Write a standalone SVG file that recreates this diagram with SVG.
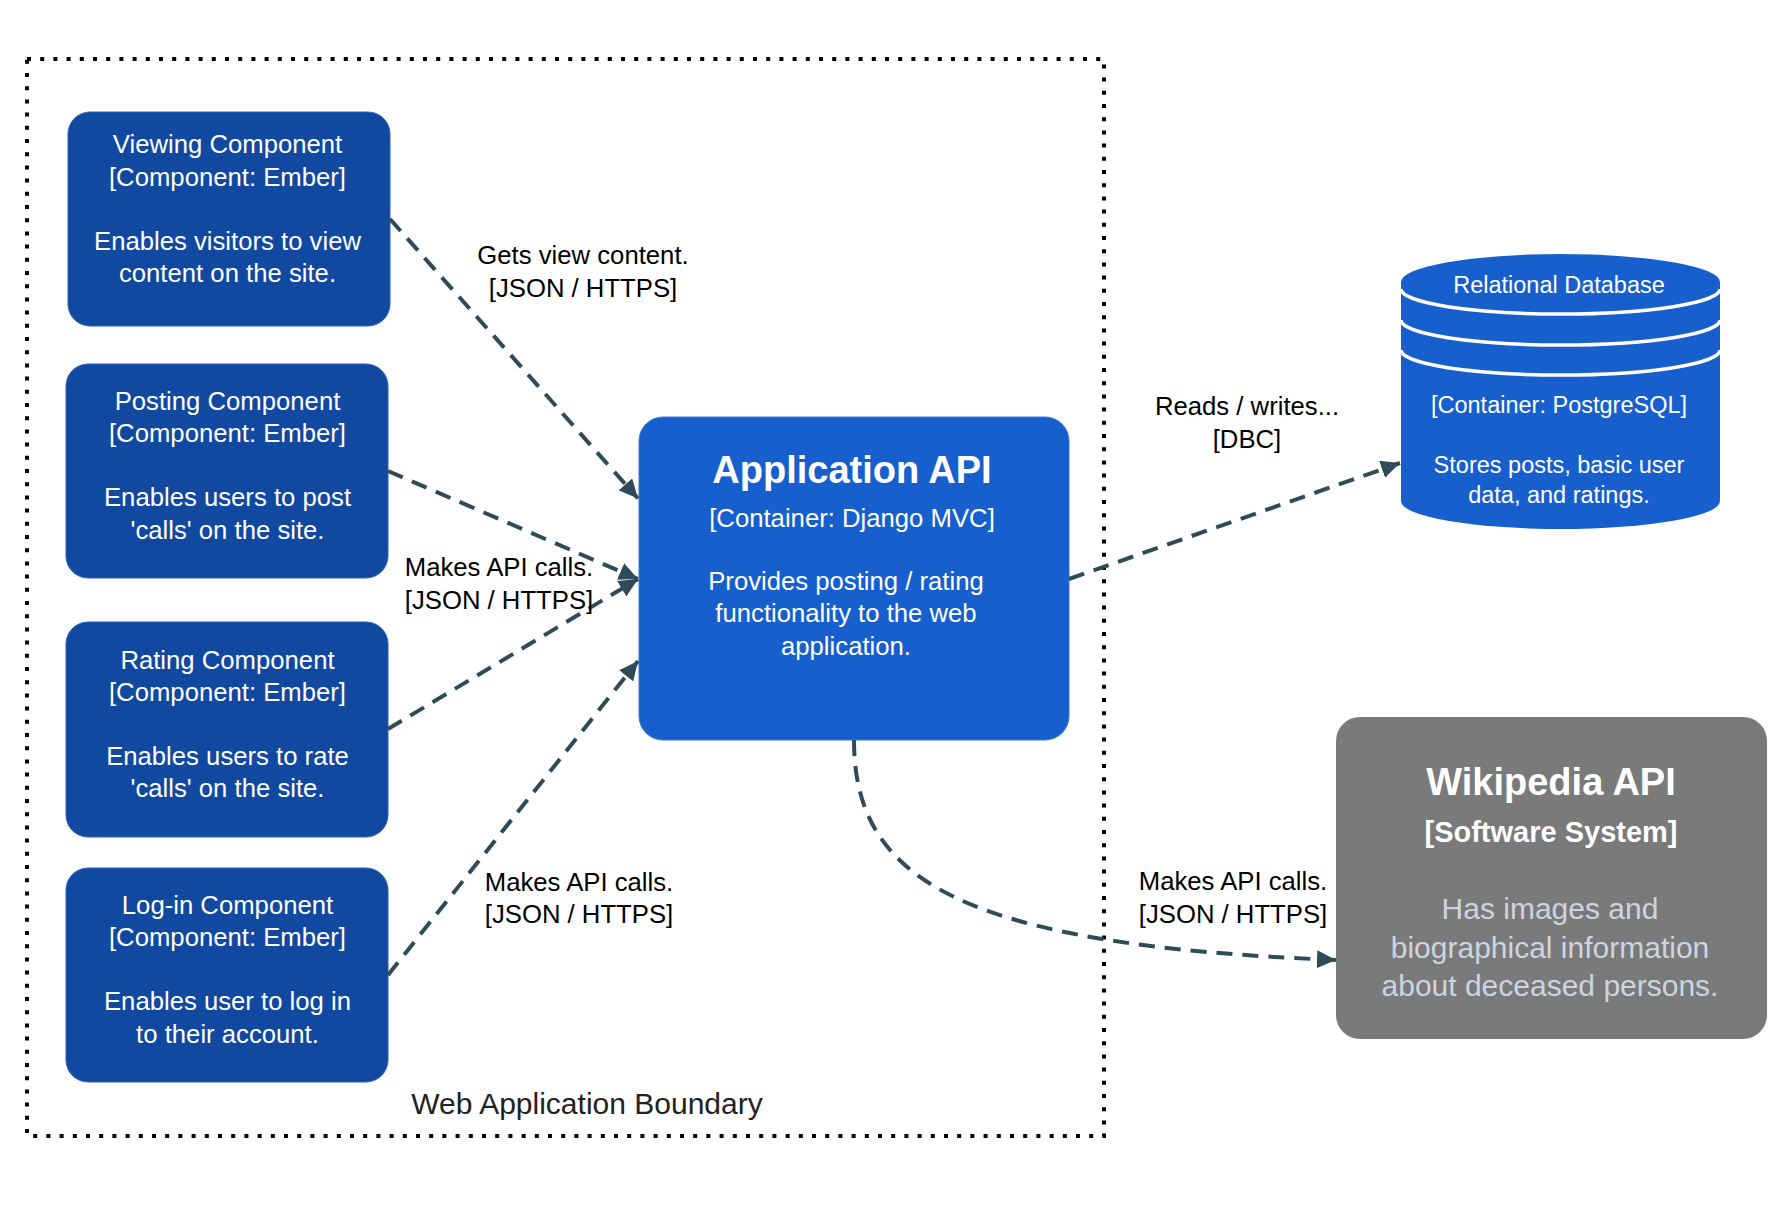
<svg xmlns="http://www.w3.org/2000/svg" width="1792" height="1208" viewBox="0 0 1792 1208">
<defs>
<marker id="arr" markerUnits="userSpaceOnUse" markerWidth="20" markerHeight="18" viewBox="0 0 20 18" refX="19" refY="9" orient="auto">
<path d="M0,0 L19,9 L0,18 z" fill="#2f4b5a"/>
</marker>
</defs>
<style>
text{font-family:"Liberation Sans",Arial,Helvetica,sans-serif;text-anchor:middle}
.comp{fill:#1148a0;stroke:#2d62b8;stroke-width:1}
.cont{fill:#175fcc;stroke:#3a78d6;stroke-width:1}
.ext{fill:#7a7a7a}
.wt{fill:#ffffff;font-size:25.7px}
.lbl{fill:#000000;font-size:25.7px}
.conn{fill:none;stroke:#2f4b5a;stroke-width:4;stroke-dasharray:16 10;marker-end:url(#arr)}
.dbl{fill:none;stroke:#ffffff;stroke-width:3.5}
</style>
<rect width="1792" height="1208" fill="#ffffff"/>

<g id="boundary">
<rect x="27" y="59" width="1077" height="1077" fill="none" stroke="#000000" stroke-width="4" stroke-dasharray="4 9.2"/>
<text x="587" y="1114" style="font-size:30px;fill:#222222">Web Application Boundary</text>
</g>

<g id="viewing">
<rect class="comp" x="68" y="112" width="322" height="214" rx="22"/>
<text class="wt" x="227.5" y="153">Viewing Component</text>
<text class="wt" x="227.5" y="186">[Component: Ember]</text>
<text class="wt" x="227.5" y="250">Enables visitors to view</text>
<text class="wt" x="227.5" y="282">content on the site.</text>
</g>

<g id="posting">
<rect class="comp" x="66" y="364" width="322" height="214" rx="22"/>
<text class="wt" x="227.5" y="409.5">Posting Component</text>
<text class="wt" x="227.5" y="442">[Component: Ember]</text>
<text class="wt" x="227.5" y="506">Enables users to post</text>
<text class="wt" x="227.5" y="538.5">'calls' on the site.</text>
</g>

<g id="rating">
<rect class="comp" x="66" y="622" width="322" height="215" rx="22"/>
<text class="wt" x="227.5" y="669">Rating Component</text>
<text class="wt" x="227.5" y="701">[Component: Ember]</text>
<text class="wt" x="227.5" y="765">Enables users to rate</text>
<text class="wt" x="227.5" y="797">'calls' on the site.</text>
</g>

<g id="login">
<rect class="comp" x="66" y="868" width="322" height="214" rx="22"/>
<text class="wt" x="227.5" y="914">Log-in Component</text>
<text class="wt" x="227.5" y="946">[Component: Ember]</text>
<text class="wt" x="227.5" y="1009.5">Enables user to log in</text>
<text class="wt" x="227.5" y="1043">to their account.</text>
</g>

<g id="app-api">
<rect class="cont" x="639" y="417" width="430" height="323" rx="24"/>
<text x="852" y="483" style="fill:#ffffff;font-size:38px;font-weight:bold">Application API</text>
<text class="wt" x="852" y="527">[Container: Django MVC]</text>
<text class="wt" x="846" y="590">Provides posting / rating</text>
<text class="wt" x="846" y="622">functionality to the web</text>
<text class="wt" x="846" y="655">application.</text>
</g>

<g id="database">
<path d="M1401,282 A159.5,28 0 0 1 1720,282 L1720,501 A159.5,28 0 0 1 1401,501 Z" fill="#175fcc"/>
<path class="dbl" d="M1401,289 A159.5,25 0 0 0 1720,289"/>
<path class="dbl" d="M1401,320 A159.5,25 0 0 0 1720,320"/>
<path class="dbl" d="M1401,350 A159.5,25 0 0 0 1720,350"/>
<text x="1559" y="293" style="fill:#ffffff;font-size:23.5px">Relational Database</text>
<text x="1559" y="413" style="fill:#ffffff;font-size:23.5px">[Container: PostgreSQL]</text>
<text x="1559" y="473" style="fill:#ffffff;font-size:23.5px">Stores posts, basic user</text>
<text x="1559" y="503" style="fill:#ffffff;font-size:23.5px">data, and ratings.</text>
</g>

<g id="wikipedia">
<rect class="ext" x="1336" y="717" width="431" height="322" rx="24"/>
<text x="1551" y="795" style="fill:#ffffff;font-size:38px;font-weight:bold">Wikipedia API</text>
<text x="1551" y="842" style="fill:#ffffff;font-size:29px;font-weight:bold">[Software System]</text>
<text x="1550" y="919" style="fill:#cdd5e0;font-size:30px">Has images and</text>
<text x="1550" y="958" style="fill:#cdd5e0;font-size:30px">biographical information</text>
<text x="1550" y="996" style="fill:#cdd5e0;font-size:30px">about deceased persons.</text>
</g>

<g id="connectors">
<path class="conn" d="M390,219 L638,498.5"/>
<path class="conn" d="M388,471 L638,579"/>
<path class="conn" d="M388,729 L638,579"/>
<path class="conn" d="M388,975 L638,661"/>
<path class="conn" d="M1069,579 L1400,463"/>
<path class="conn" d="M854,740 C854,880 960,945 1336,960"/>
<text class="lbl" x="583" y="264">Gets view content.</text>
<text class="lbl" x="583" y="296.5">[JSON / HTTPS]</text>
<text class="lbl" x="499" y="576">Makes API calls.</text>
<text class="lbl" x="499" y="608.5">[JSON / HTTPS]</text>
<text class="lbl" x="579" y="891">Makes API calls.</text>
<text class="lbl" x="579" y="923">[JSON / HTTPS]</text>
<text class="lbl" x="1247" y="415">Reads / writes...</text>
<text class="lbl" x="1247" y="448">[DBC]</text>
<text class="lbl" x="1233" y="890">Makes API calls.</text>
<text class="lbl" x="1233" y="923">[JSON / HTTPS]</text>
</g>
</svg>
